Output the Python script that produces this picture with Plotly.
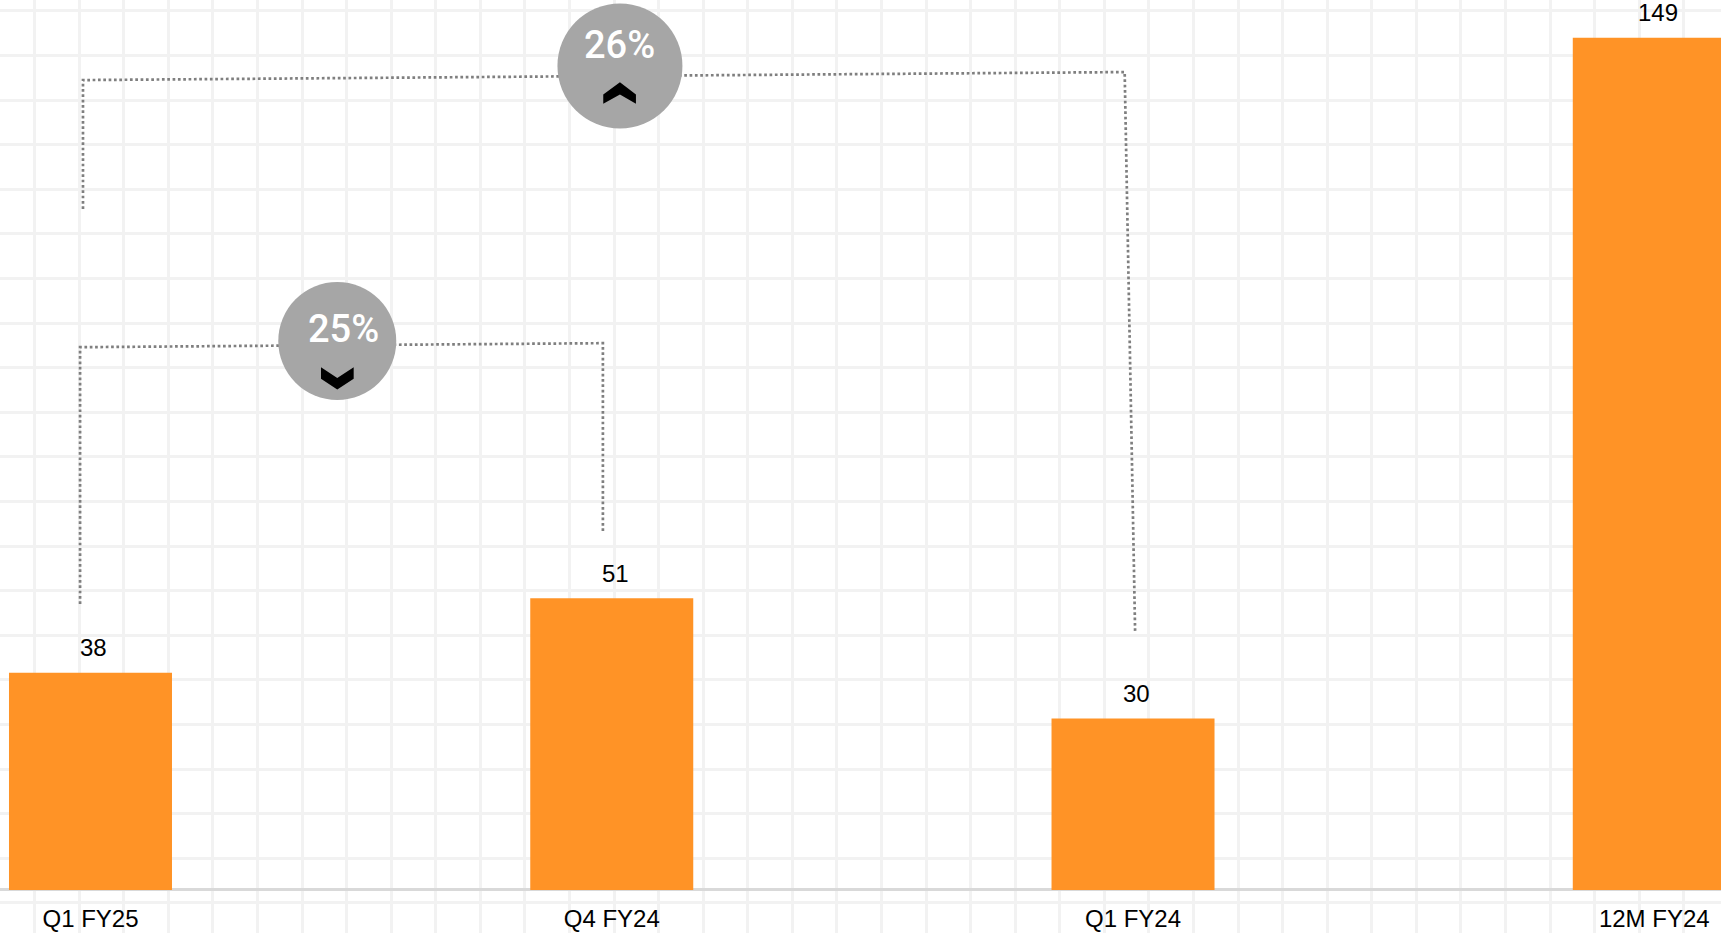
import plotly.graph_objects as go

# Net profit by period
categories = ["Q1 FY25", "Q4 FY24", "Q1 FY24", "12M FY24"]
values = [38, 51, 30, 149]

# Comparison brackets, in axis units
bracket_yoy_x = [-0.0144, -0.0144, 1.984, 2.004]
bracket_yoy_y = [119.06, 141.6, 143.0, 45.3]
bracket_qoq_x = [-0.020, -0.020, 0.983, 0.983]
bracket_qoq_y = [50.0, 94.9, 95.6, 62.6]

# Change badges
badge_x = [1.0157, 0.4734]
badge_y = [144.06, 95.98]
badge_sizes = [125, 118]
badge_labels = ["26%", "25%"]
badge_label_x = [1.0157, 0.4857]
badge_label_y = [147.8, 98.15]

# Direction chevrons
chevron_up_x = [0.9837, 1.0157, 1.0464, 1.0464, 1.0157, 0.9837, 0.9837]
chevron_up_y = [139.1, 141.2, 139.1, 137.45, 139.1, 137.45, 139.1]
chevron_down_x = [0.4422, 0.4734, 0.5049, 0.5049, 0.4734, 0.4422, 0.4422]
chevron_down_y = [91.4, 89.5, 91.4, 89.4, 87.5, 89.4, 91.4]

ORANGE = "#FF9326"
GREY = "#A6A6A6"
DOT = "#7F7F7F"
GRID = "#F2F2F2"
positions = list(range(len(categories)))

fig = go.Figure()
fig.add_bar(x=positions, y=values, width=0.3127, marker=dict(color=ORANGE, line_width=0))

for bx, by in ((bracket_yoy_x, bracket_yoy_y), (bracket_qoq_x, bracket_qoq_y)):
    fig.add_scatter(x=bx, y=by, mode="lines",
                    line=dict(color=DOT, width=2.7, dash="2.7px,2.63px"))

fig.add_scatter(x=badge_x, y=badge_y, mode="markers",
                marker=dict(color=GREY, size=badge_sizes, opacity=1, line_width=0))

for cx, cy in ((chevron_up_x, chevron_up_y), (chevron_down_x, chevron_down_y)):
    fig.add_scatter(x=cx, y=cy, mode="lines", fill="toself", fillcolor="#000000",
                    line=dict(color="#000000", width=0))

annotations = [
    dict(x=p, y=v, text=str(v), showarrow=False, xshift=3.5, yshift=25,
         font=dict(family="Liberation Sans", size=24, color="#000000"))
    for p, v in zip(positions, values)
]
annotations += [
    dict(x=x, y=y, text=t, showarrow=False,
         font=dict(family="Roboto", size=38, weight=500, color="#FFFFFF"))
    for x, y, t in zip(badge_label_x, badge_label_y, badge_labels)
]

fig.update_layout(
    width=1721, height=933, autosize=False,
    margin=dict(l=0, r=0, t=0, b=0, pad=0),
    paper_bgcolor="#FFFFFF", plot_bgcolor="#FFFFFF",
    showlegend=False, annotations=annotations,
    xaxis=dict(
        range=[-0.1736, 3.128], tickmode="array", tickvals=positions, ticktext=categories,
        ticklabelposition="inside", ticklabelstandoff=-2, ticks="", showgrid=False,
        zeroline=False, showline=False,
        tickfont=dict(family="Liberation Sans", size=24, color="#000000"),
        minor=dict(showgrid=True, gridcolor=GRID, gridwidth=2.5, tick0=-0.107, dtick=0.0855),
    ),
    yaxis=dict(
        range=[-7.52, 155.6], showticklabels=False, ticks="", tick0=5.55, dtick=7.797,
        showgrid=True, gridcolor=GRID, gridwidth=2.5,
        zeroline=True, zerolinecolor="#D9D9D9", zerolinewidth=2.5, showline=False,
    ),
)

fig.write_html("out.html", config={"displayModeBar": False})
